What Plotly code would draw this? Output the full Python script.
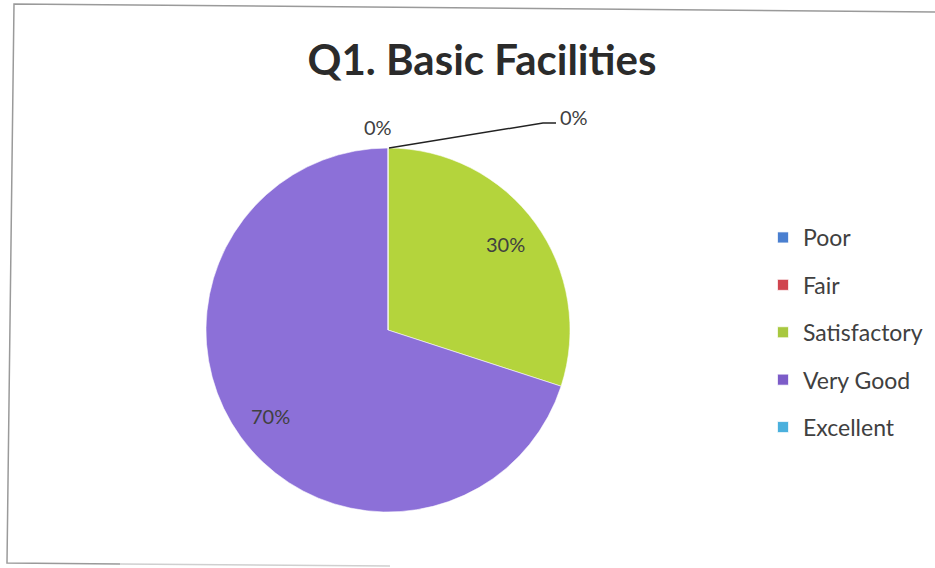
import math
import plotly.graph_objects as go

title_text = "Q1. Basic Facilities"
categories = ["Poor", "Fair", "Satisfactory", "Very Good", "Excellent"]
percent_values = [0, 0, 30, 70, 0]
slice_colors = ["#4A80D0", "#D0464F", "#B4D43C", "#8C70D8", "#4AB0DD"]
legend_colors = ["#4A7FD0", "#D0454F", "#A8C83F", "#7C5CC8", "#4AB0DD"]

W, H = 935, 568
FONT = "Lato, 'Open Sans', sans-serif"
TXT = "#404040"

# pie geometry in pixels
CX, CY, R = 388, 330, 182


def px(x):
    return x / W


def py(y):
    return 1 - y / H


fig = go.Figure()

fig.add_trace(go.Pie(
    labels=categories,
    values=percent_values,
    sort=False,
    direction="clockwise",
    rotation=0,
    marker=dict(colors=slice_colors, line=dict(color="rgba(255,255,255,0.55)", width=1)),
    textinfo="none",
    showlegend=False,
    domain=dict(x=[px(CX - R), px(CX + R)], y=[py(CY + R), py(CY - R)]),
    hoverinfo="label+percent",
))

# labels for non-zero slices, placed along each slice's mid-angle
total = sum(percent_values)
cum = 0.0
for v in percent_values:
    if v > 0:
        mid = (cum + v / 2) / total * 2 * math.pi
        lx = CX + 0.80 * R * math.sin(mid)
        ly = CY - 0.80 * R * math.cos(mid)
        fig.add_annotation(x=px(lx), y=py(ly), xref="paper", yref="paper",
                           xanchor="center", yanchor="middle",
                           text=f"{v / total:.0%}", showarrow=False,
                           font=dict(family=FONT, size=20, color=TXT))
    cum += v

# legend entries (one per category)
for name, col in zip(categories, legend_colors):
    fig.add_trace(go.Scatter(
        x=[None], y=[None], mode="markers", name=name, legendgroup=name,
        marker=dict(symbol="square", size=11, color=col,
                    line=dict(color="rgba(255,255,255,0.7)", width=1)),
        hoverinfo="skip",
    ))

# zero-value labels with leader line
fig.add_annotation(x=px(378), y=py(127), xref="paper", yref="paper",
                   xanchor="center", yanchor="middle",
                   text="0%", showarrow=False,
                   font=dict(family=FONT, size=20, color=TXT))
fig.add_annotation(x=px(574), y=py(117), xref="paper", yref="paper",
                   xanchor="center", yanchor="middle",
                   text="0%", showarrow=False,
                   font=dict(family=FONT, size=20, color=TXT))
fig.add_shape(type="path", xref="paper", yref="paper",
              path=f"M {px(389)} {py(148)} L {px(543)} {py(123)} L {px(556)} {py(123)}",
              line=dict(color="#222222", width=1.5))

# chart border (as photographed)
fig.add_shape(type="path", xref="paper", yref="paper",
              path=f"M {px(940)} {py(12)} L {px(14)} {py(4)} L {px(7)} {py(563)} L {px(120)} {py(564)}",
              line=dict(color="#9a9a9a", width=1.5))
fig.add_shape(type="line", xref="paper", yref="paper",
              x0=px(120), y0=py(564), x1=px(390), y1=py(566),
              line=dict(color="#cfcfcf", width=1.5))

fig.update_layout(
    width=W, height=H,
    margin=dict(l=0, r=0, t=0, b=0),
    paper_bgcolor="white", plot_bgcolor="white",
    title=dict(text=f"<b>{title_text}</b>", x=px(482), y=py(60),
               xanchor="center", yanchor="middle",
               font=dict(family=FONT, size=42, color="#2b2b2b")),
    xaxis=dict(visible=False), yaxis=dict(visible=False),
    legend=dict(x=px(763), y=py(216), xanchor="left", yanchor="top",
                font=dict(family=FONT, size=23, color=TXT),
                tracegroupgap=14.5, itemwidth=30,
                bgcolor="rgba(0,0,0,0)"),
)

fig.write_html(
    "out.html",
    config={"displayModeBar": False},
    post_script="document.body.style.margin='0';document.body.style.overflow='hidden';",
)
